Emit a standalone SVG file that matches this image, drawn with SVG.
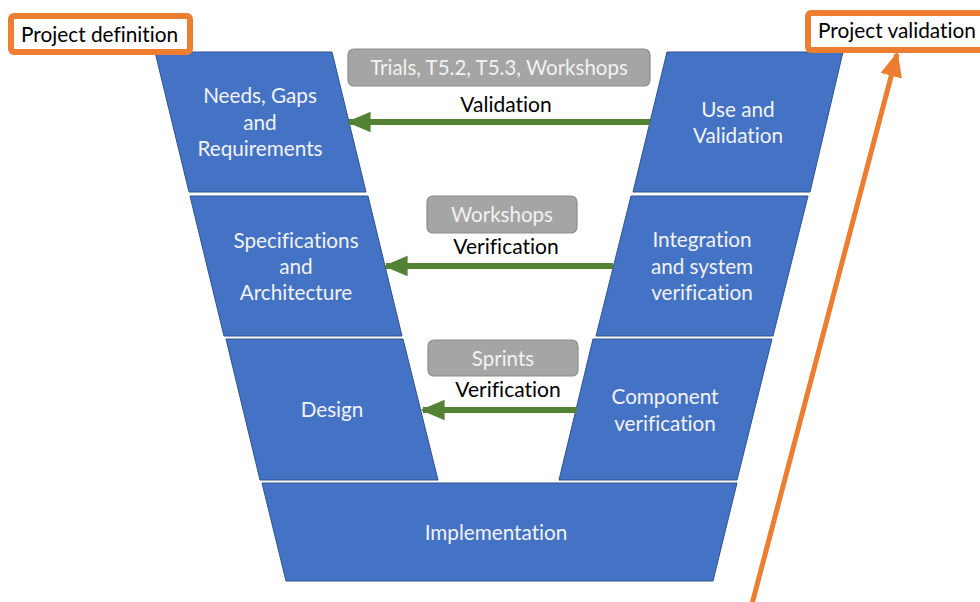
<svg xmlns="http://www.w3.org/2000/svg" width="980" height="602" viewBox="0 0 980 602">
<style>
text{font-variant-ligatures:none;font-feature-settings:"liga" 0,"dlig" 0}
.blk{fill:#4472C4;stroke:#2F528F;stroke-width:1}
.bt{font-family:Lato,"Open Sans",sans-serif;font-size:20.7px;fill:#F2F2F2;text-anchor:middle}
.tag{fill:#A5A5A5;stroke:#8C8C8C;stroke-width:1.2}
.tt{font-family:Lato,"Open Sans",sans-serif;font-size:20.5px;fill:#F2F2F2;text-anchor:middle}
.lbl{font-family:Lato,"Open Sans",sans-serif;font-size:21px;fill:#000;text-anchor:middle}
.ob{fill:#fff;stroke:#ED7D31;stroke-width:6}
.ot{font-family:Lato,"Open Sans",sans-serif;font-size:20.8px;fill:#000}
.g{stroke:#548235;stroke-width:6;fill:none}
</style>
<defs>
<marker id="ga" markerWidth="4" markerHeight="4" refX="3.6" refY="2" orient="auto" markerUnits="strokeWidth" viewBox="0 0 4 4"><path d="M0,0.3 L4,2 L0,3.7 Z" fill="#548235"/></marker>
<marker id="oa" markerWidth="5" markerHeight="5" refX="4.5" refY="2.5" orient="auto" markerUnits="strokeWidth" viewBox="0 0 5 5"><path d="M0,0.3 L5,2.5 L0,4.7 Z" fill="#ED7D31"/></marker>
</defs>
<rect width="980" height="602" fill="#fff"/>
<g id="needs"><polygon class="blk" points="155,52 332,52 366,192 189,192"/>
<text class="bt" x="260" y="103">Needs, Gaps</text><text class="bt" x="260" y="130">and</text><text class="bt" x="260" y="156">Requirements</text></g>
<g id="spec"><polygon class="blk" points="190,196 368,196 402,336 224,336"/>
<text class="bt" x="296" y="248">Specifications</text><text class="bt" x="296" y="274">and</text><text class="bt" x="296" y="300">Architecture</text></g>
<g id="design"><polygon class="blk" points="226,339 403,339 438,480 260,480"/>
<text class="bt" x="332" y="417">Design</text></g>
<g id="impl"><polygon class="blk" points="262,483 737,483 713,581 286,581"/>
<text class="bt" x="496" y="540">Implementation</text></g>
<g id="use"><polygon class="blk" points="667,52 843,52 810,192 633,192"/>
<text class="bt" x="738" y="117">Use and</text><text class="bt" x="738" y="143">Validation</text></g>
<g id="integ"><polygon class="blk" points="631,196 808,196 773,336 596,336"/>
<text class="bt" x="702" y="247">Integration</text><text class="bt" x="702" y="274">and system</text><text class="bt" x="702" y="300">verification</text></g>
<g id="comp"><polygon class="blk" points="593,339 772,339 737,480 559,480"/>
<text class="bt" x="665" y="404">Component</text><text class="bt" x="665" y="431">verification</text></g>
<g id="tag1"><rect class="tag" x="348" y="49" width="302" height="37" rx="6"/><text class="tt" x="499" y="75">Trials, T5.2, T5.3, Workshops</text></g>
<g id="tag2"><rect class="tag" x="427" y="196" width="150" height="37" rx="6"/><text class="tt" x="502" y="222">Workshops</text></g>
<g id="tag3"><rect class="tag" x="428" y="340" width="150" height="36" rx="6"/><text class="tt" x="503" y="366">Sprints</text></g>
<g id="pdef"><rect class="ob" x="11" y="16" width="179" height="36" rx="3"/><text class="ot" x="21" y="42">Project definition</text></g>
<g id="pval"><rect class="ob" x="808" y="13" width="180" height="37" rx="3"/><text class="ot" x="818" y="38">Project validation</text></g>
<g id="connectors">
<line class="g" x1="650" y1="122" x2="349" y2="122" marker-end="url(#ga)"/>
<line class="g" x1="613" y1="266" x2="386" y2="266" marker-end="url(#ga)"/>
<line class="g" x1="577" y1="410" x2="423" y2="410" marker-end="url(#ga)"/>
<line x1="752" y1="604" x2="897" y2="54" stroke="#ED7D31" stroke-width="5" marker-end="url(#oa)"/>
</g>
<g id="labels">
<text class="lbl" x="506" y="112">Validation</text>
<text class="lbl" x="506" y="254">Verification</text>
<text class="lbl" x="508" y="397">Verification</text>
</g>
</svg>
